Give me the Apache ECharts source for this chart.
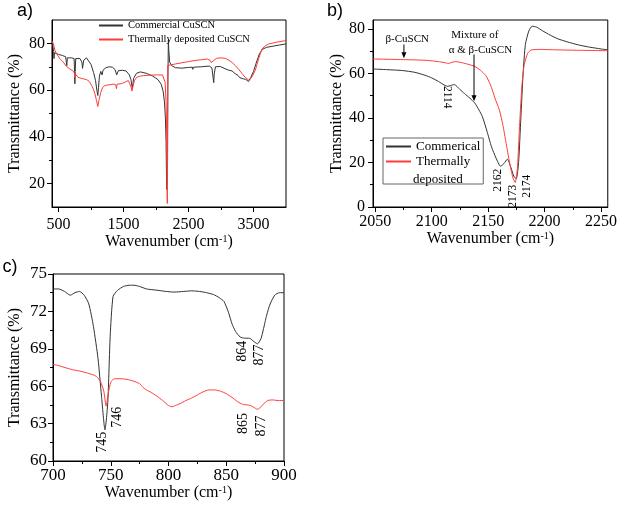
<!DOCTYPE html>
<html><head><meta charset="utf-8">
<script src="https://cdn.jsdelivr.net/npm/echarts@6/dist/echarts.min.js"></script>
<style>html,body{margin:0;padding:0;background:#fff}#c{width:620px;height:505px}</style>
</head><body><div id="c"></div>
<script>
// ---------- Panel a (full spectrum) ----------
const aCommWn = [400,415,425,431,437,460,500,560,610,620,628,636,700,740,747,752,757,765,830,860,870,878,888,930,960,1000,1040,1070,1090,1105,1115,1130,1150,1170,1185,1230,1280,1330,1370,1395,1420,1480,1540,1590,1615,1636,1655,1700,1760,1850,1950,2030,2080,2110,2130,2145,2155,2162,2168,2174,2178,2183,2190,2197,2210,2240,2300,2400,2500,2560,2567,2575,2700,2820,2860,2880,2888,2896,2915,2990,3060,3110,3170,3210,3260,3290,3310,3345,3380,3423,3460,3500,3540,3590,3640,3700,3800,3900,4000];
const aCommT  = [81,78.5,76.5,73.5,76,75.5,75.3,74.8,74.3,72,70.5,73.8,73.8,73.5,68,62.7,68,73.5,73.5,72,69.3,70,72.8,73.8,73.5,71,67.5,64,60,57.7,61,66,68,66.5,68.5,69.6,70,69.8,68.8,66.5,68.3,68.5,68.2,66.5,64.5,60.5,65,67.2,67.8,67.2,66,64.5,62.5,59.5,55,48,38,22,17.5,17,30,62,81.5,77,72,70.5,69.6,69.4,69.7,69.8,68.9,69.8,70,70.3,69.5,65,63.2,67,70,70.1,69.2,68.6,68.2,67.2,66.3,65.3,65.6,64.8,64.6,63.7,65.5,68,71.5,75.5,77.5,78.3,78.8,79.3,79.8];
const aThermWn = [400,420,445,472,520,574,620,677,720,745,752,758,800,830,856,870,933,970,1010,1040,1061,1085,1105,1125,1150,1180,1215,1260,1292,1340,1380,1392,1400,1472,1530,1574,1600,1615,1630,1645,1670,1703,1760,1805,1900,2010,2100,2125,2140,2155,2165,2170,2174,2177,2180,2220,2300,2400,2500,2600,2700,2790,2830,2850,2865,2880,2930,3000,3065,3120,3168,3220,3269,3320,3372,3433,3480,3526,3580,3629,3680,3731,3850,4000];
const aThermT  = [81,80,77,75.5,73.5,72,70.2,69,68.3,67.3,65.5,67,65.5,65.8,65,65.5,64.5,63.8,62,60.2,58.4,55.5,53,56,59,61.2,62,62.2,62.3,62.6,62.3,60.6,62.5,62.8,63.5,64.1,63.3,61.5,59.6,61.5,64.2,65.5,66,66.2,66.4,66.5,66.5,66,63.4,55,40,20,11.5,40,70.5,70.8,71.2,71.7,72.2,72.7,73,73.3,72.8,71.8,71.5,72.3,73.6,73.8,73.6,72.8,71.9,70.5,69,67.2,65.5,64.1,65.8,68.4,73.5,77.6,78.9,79.7,80.5,81.2];
const aXTicks = [500,1500,2500,3500], aXMinor = [1000,2000,3000];
const aYTicks = [20,40,60,80], aYMinor = [30,50,70];

// ---------- Panel b (2050-2250) ----------
const bCommWn = [2048,2060,2074,2085,2094,2100,2106,2111,2114,2117,2120,2125,2129,2134,2138,2142,2145,2149,2153,2157,2161,2164,2167,2170,2173,2175,2177,2179,2181,2183,2186,2189,2193,2198,2205,2212,2220,2230,2240,2250,2256];
const bCommT  = [62,61.7,61.3,60.5,59.2,58,56.4,54.8,54.2,54.6,55,52.8,51,48.8,46.8,43.5,40.5,34,27,22,18.3,19.5,21.5,18,13.5,12.8,20,40,60,73,79,81.2,80.8,79.2,77.2,75.5,74.2,72.8,71.8,71,70.6];
const bThermWn = [2048,2075,2095,2106,2111,2115,2118,2121,2127,2133,2138,2143,2148,2152,2156,2160,2163,2166,2169,2172,2174,2176,2178,2180,2182,2185,2188,2195,2210,2230,2256];
const bThermT  = [66.5,66.2,65.9,65.3,64.9,64.5,65,65.3,64.8,64,63.2,61.5,59,55,49,43.5,37,28.5,20,13,11,18,38,55,64,69,70.5,70.8,70.6,70.4,70.2];
const bXTicks = [2050,2100,2150,2200,2250], bXMinor = [2075,2125,2175,2225];
const bYTicks = [0,20,40,60,80], bYMinor = [10,30,50,70];

// ---------- Panel c (700-900) ----------
const cCommWn = [700,705,710,715,719,723,727,731,735,739,742,745,747.5,749.5,752,756,761,766,770,775,781,790,798,805,813,820,827,833,839,844,848,852,855,858,862,866,870,873,877,880,882,885,888,892,896,900];
const cCommT  = [73.8,73.8,73.6,73.3,73.5,73.6,73.3,72.6,70.8,68.2,65.2,62.5,64.8,70,73.2,73.7,74,74.1,74.1,74,73.8,73.7,73.6,73.55,73.6,73.65,73.6,73.5,73.35,73.1,72.8,71.9,71,70.4,69.95,69.85,69.85,69.65,69.4,69.8,70.5,71.7,72.6,73.3,73.5,73.5];
const cThermWn = [700,705,712,718,724,730,735,738,741,744,746,748,750,753,758,764,770,775,778,781,785,790,795,800,803,806,810,815,820,825,830,835,840,845,850,855,860,864,868,871,874,877,879,882,886,890,895,900];
const cThermT  = [67.75,67.65,67.45,67.3,67.2,67.05,66.9,66.75,66.4,65.6,64.4,65.5,66.3,66.6,66.6,66.55,66.4,66.2,65.9,65.7,65.5,65.2,64.85,64.45,64.35,64.45,64.6,64.85,65.05,65.3,65.55,65.7,65.7,65.6,65.4,65.1,64.75,64.55,64.5,64.45,64.3,64.15,64.25,64.55,64.85,64.9,64.85,64.85];
const cXTicks = [700,750,800,850,900], cXMinor = [725,775,825,875];
const cYTicks = [60,63,66,69,72,75], cYMinor = [61.5,64.5,67.5,70.5,73.5];

// ---------- Annotations (data coordinates) ----------
const bPeakLabels = [['2114',2113.5,49.3,-1],['2162',2158.3,12,1],['2173',2172.2,4.8,1],['2174',2184.5,9.3,1]];
const cPeakLabels = [['745',743,61.5],['746',756,63.5],['864',864,68.8],['877',879,68.5],['865',865.2,63],['877',880,62.8]];

const serif = '"Liberation Serif","Times New Roman",serif';
const BLACK = '#333333', RED = '#ff3b3b';
const pair = (xs, ys) => xs.map((x, i) => [x, ys[i]]);
const plain = v => String(v);

function mainX(g, min, max, vals, nameGap, margin, fs) {
  return {type:'value', gridIndex:g, min, max, position:'bottom',
    axisLine:{show:true, onZero:false, lineStyle:{color:'#000', width:1}},
    axisTick:{show:true, customValues:vals, length:5, lineStyle:{color:'#000'}},
    axisLabel:{show:true, customValues:vals, margin, color:'#000', fontFamily:serif, fontSize:fs, formatter:plain},
    splitLine:{show:false},
    name:'Wavenumber (cm{sup|-1})', nameLocation:'middle', nameGap,
    nameTextStyle:{color:'#000', fontFamily:serif, fontSize:16,
      rich:{sup:{fontSize:10, verticalAlign:'top', fontFamily:serif, color:'#000'}}}};
}
function minorX(g, min, max, vals) {
  return {type:'value', gridIndex:g, min, max, position:'bottom',
    axisLine:{show:false}, axisTick:{show:true, customValues:vals, length:3, lineStyle:{color:'#000'}},
    axisLabel:{show:false}, splitLine:{show:false}};
}
function mainY(g, min, max, vals, nameGap, margin, fs) {
  return {type:'value', gridIndex:g, min, max, position:'left',
    axisLine:{show:true, onZero:false, lineStyle:{color:'#000', width:1}},
    axisTick:{show:true, customValues:vals, length:5, lineStyle:{color:'#000'}},
    axisLabel:{show:true, customValues:vals, margin, color:'#000', fontFamily:serif, fontSize:fs, formatter:plain},
    splitLine:{show:false},
    name:'Transmittance (%)', nameLocation:'middle', nameGap, nameRotate:90,
    nameTextStyle:{color:'#000', fontFamily:serif, fontSize:16}};
}
function minorY(g, min, max, vals) {
  return {type:'value', gridIndex:g, min, max, position:'left',
    axisLine:{show:false}, axisTick:{show:true, customValues:vals, length:3, lineStyle:{color:'#000'}},
    axisLabel:{show:false}, splitLine:{show:false}};
}
const gridStyle = {show:true, borderColor:'#000', borderWidth:1, backgroundColor:'transparent'};
function line(name, xi, data, color, smooth) {
  return {type:'line', name, xAxisIndex:xi, yAxisIndex:xi, data, symbol:'none', smooth:smooth||false,
    lineStyle:{color, width:1}, itemStyle:{color}, animation:false, z:3};
}

const chart = echarts.init(document.getElementById('c'), null, {renderer:'canvas'});
chart.setOption({
  animation:false,
  backgroundColor:'#fff',
  grid:[
    Object.assign({left:52, top:20, width:234, height:187}, gridStyle),
    Object.assign({left:373, top:20, width:241, height:187}, gridStyle),
    Object.assign({left:53, top:274, width:231, height:187}, gridStyle)
  ],
  xAxis:[
    mainX(0, 400, 4000, aXTicks, 23, 10, 16), minorX(0, 400, 4000, aXMinor),
    mainX(1, 2048, 2256, bXTicks, 23, 7, 16), minorX(1, 2048, 2256, bXMinor),
    mainX(2, 700, 900, cXTicks, 17, 6, 17), minorX(2, 700, 900, cXMinor)
  ],
  yAxis:[
    mainY(0, 10, 90, aYTicks, 29, 7, 16), minorY(0, 10, 90, aYMinor),
    mainY(1, 0, 84, bYTicks, 25, 8, 16), minorY(1, 0, 84, bYMinor),
    mainY(2, 60, 75, cYTicks, 30, 6, 17), minorY(2, 60, 75, cYMinor)
  ],
  legend:[
    {data:['Commercial CuSCN','Thermally deposited CuSCN'], orient:'vertical', left:98, top:20,
     itemWidth:24, itemHeight:10, itemGap:3, padding:0, selectedMode:false,
     itemStyle:{opacity:0},
     textStyle:{fontFamily:serif, fontSize:10.5, color:'#000'}},
    {data:['Commerical','Thermally deposited'], orient:'vertical', left:383, top:138,
     itemWidth:25, itemHeight:12, itemGap:2, padding:[2,3,16,2], selectedMode:false,
     borderColor:'#666', borderWidth:1, itemStyle:{opacity:0},
     formatter:n => n === 'Thermally deposited' ? 'Thermally' : n,
     textStyle:{fontFamily:serif, fontSize:13, color:'#000'}}
  ],
  series:[
    line('Commercial CuSCN', 0, pair(aCommWn, aCommT), BLACK),
    line('Thermally deposited CuSCN', 0, pair(aThermWn, aThermT), RED),
    line('Commerical', 2, pair(bCommWn, bCommT), BLACK, 0.2),
    line('Thermally deposited', 2, pair(bThermWn, bThermT), RED, 0.2),
    line('Commercial c', 4, pair(cCommWn, cCommT), BLACK, 0.2),
    line('Thermal c', 4, pair(cThermWn, cThermT), RED, 0.2)
  ]
});

function px(ai, x, y) { return chart.convertToPixel({xAxisIndex:ai, yAxisIndex:ai}, [x, y]); }
function txt(x, y, text, size, rot, family) {
  return {type:'text', x, y, rotation:rot||0, z:10,
    style:{text, fill:'#000', font: size + 'px ' + (family||serif),
      align:'center', verticalAlign:'middle', textAlign:'center', textVerticalAlign:'middle'}};
}
function arrow(ai, x, y1, y2) {
  const p1 = px(ai, x, y1), p2 = px(ai, x, y2);
  return [
    {type:'line', z:10, shape:{x1:p1[0], y1:p1[1], x2:p2[0], y2:p2[1]-3}, style:{stroke:'#000', lineWidth:1}},
    {type:'polygon', z:10, shape:{points:[[p2[0]-2.5, p2[1]-6],[p2[0]+2.5, p2[1]-6],[p2[0], p2[1]]]}, style:{fill:'#000'}}
  ];
}
const g = [];
g.push(txt(25, 11, 'a)', 18, 0, '"Liberation Sans",Arial,sans-serif'));
g.push(txt(335, 11, 'b)', 18, 0, '"Liberation Sans",Arial,sans-serif'));
g.push(txt(10, 267, 'c)', 18, 0, '"Liberation Sans",Arial,sans-serif'));
bPeakLabels.forEach(([t, x, y, r]) => { const p = px(2, x, y); g.push(txt(p[0], p[1], t, 11.5, r * Math.PI / 2)); });
cPeakLabels.forEach(([t, x, y]) => { const p = px(4, x, y); g.push(txt(p[0], p[1], t, 14, Math.PI / 2)); });
let p = px(2, 2078.3, 75.6); g.push(txt(p[0], p[1], 'β-CuSCN', 11));
p = px(2, 2138.2, 77); g.push(txt(p[0], p[1], 'Mixture of', 11));
p = px(2, 2143.2, 70.6); g.push(txt(p[0], p[1], 'α & β-CuSCN', 11));
g.push(...arrow(2, 2075.4, 73, 66.8));
g.push(...arrow(2, 2137.5, 68.5, 47.5));
// second line of legend b entry
g.push({type:'text', left:413, top:173, z:10, style:{text:'deposited', fill:'#000', font:'13px ' + serif}});
chart.setOption({graphic:g});
</script>
</body></html>
